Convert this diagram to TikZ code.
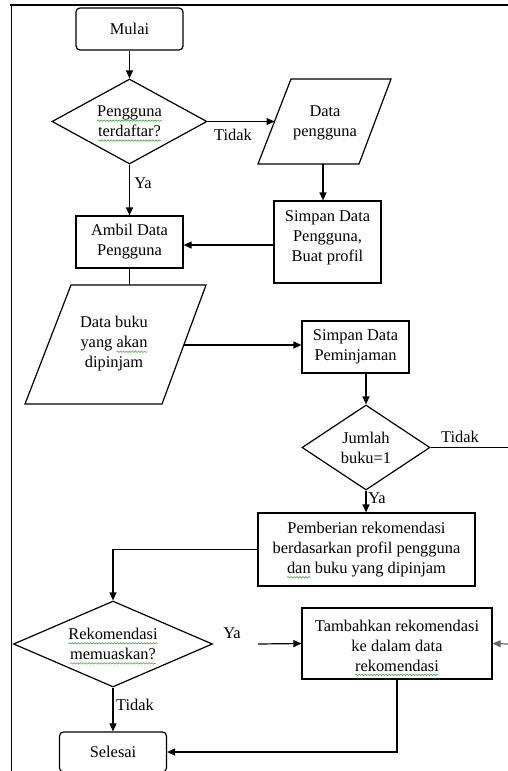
\documentclass[tikz,border=0pt]{standalone}
\usepackage{fontspec}
\setmainfont{Liberation Serif}
\usetikzlibrary{shapes.geometric,arrows.meta,decorations.pathmorphing}
\definecolor{squig}{RGB}{70,165,70}
% small green wavy underline (spell-check marks) drawn under a word
\newsavebox\sqbox
\newcommand\sqg[1]{\sbox\sqbox{#1}%
  \rlap{\tikz[overlay]\draw[squig, line width=0.6pt, decorate,
      decoration={snake, amplitude=0.7pt, segment length=3pt}]
      (0pt,-3.8pt) -- (\wd\sqbox,-3.8pt);}%
  \usebox\sqbox}

\begin{document}
\begin{tikzpicture}[x=1pt,y=-1pt,
  every node/.style={font=\fontsize{16.4}{20}\selectfont},
  line/.style={line width=1.2pt},
  arr/.style={line, -{Triangle[length=8pt,width=7pt]}},
  proc/.style={draw, line width=1.2pt, align=center, inner sep=0pt},
  term/.style={proc, rounded corners=4pt},
  decision/.style={draw, diamond, line width=1.2pt, align=center, inner sep=0pt},
  io/.style={line width=1.2pt, line join=miter},
  lbl/.style={inner sep=0pt}]
\useasboundingbox (0,0) rectangle (508,771);

% page frame
\draw[line width=1.4pt] (10,5) -- (508,5);
\draw[line width=1.4pt] (11.5,5) -- (11.5,771);

% nodes
\node[term, minimum width=107pt, minimum height=42pt] (mulai) at (129.5,29) {Mulai};
\node[decision, aspect=1.82, minimum width=155pt, minimum height=85pt] (d1) at (129.5,121.5) {\sqg{Pengguna}\\\sqg{terdaftar?}};

\node[lbl, align=center] (dp) at (325,123) {Data\\pengguna};
\draw[io] (291,79) -- (391,79) -- (359,164) -- (258,164) -- cycle;
\coordinate (dpL) at (274.5,121.5);
\coordinate (dpB) at (323,164);

\node[proc, minimum width=107pt, minimum height=82pt] (sp) at (327.5,242) {};
\node[lbl, align=center] (spt) at (327.5,237.5) {Simpan Data\\Pengguna,\\Buat profil};
\node[proc, minimum width=107pt, minimum height=52pt] (ambil) at (129.5,242) {Ambil Data\\Pengguna};

\node[lbl, align=center] (db) at (114,344) {Data buku\\yang \sqg{akan}\\dipinjam};
\draw[io] (71,285) -- (206,285) -- (162,404) -- (25,404) -- cycle;
\coordinate (dbT) at (129.5,285);
\coordinate (dbR) at (183.5,345);

\node[proc, minimum width=107pt, minimum height=52pt] (spm) at (355.5,347) {Simpan Data\\Peminjaman};
\node[decision, aspect=1.5, minimum width=128pt, minimum height=85pt] (d2) at (366,447.5) {Jumlah\\buku=1};
\node[proc, minimum width=217pt, minimum height=73pt] (pem) at (366.5,549.5) {Pemberian rekomendasi\\berdasarkan profil pengguna\\\sqg{dan} buku yang dipinjam};
\node[decision, aspect=2.3, minimum width=199pt, minimum height=86pt] (d3) at (113,644) {\sqg{Rekomendasi}\\\sqg{memuaskan?}};
\node[proc, minimum width=190pt, minimum height=71pt] (tam) at (397,643.5) {};
\node[lbl, align=center] (tamt) at (397,645.5) {Tambahkan rekomendasi\\ke dalam data\\\sqg{rekomendasi}};
\node[term, minimum width=107pt, minimum height=40pt] (sel) at (113,752) {Selesai};

\coordinate (tidakEnd) at (508,447.5);
\coordinate (yaStart) at (258,644);
\coordinate (inR) at (508,644);

% connectors
\draw[arr] (mulai.south) -- (d1.north);
\draw[arr] (d1.east) -- (dpL);
\draw[arr] (dpB) -- (dpB |- sp.north);
\draw[arr] (d1.south) -- (ambil.north);
\draw[arr] ([yshift=-3pt]sp.west) -- ([yshift=-3pt]ambil.east);
\draw[line] (ambil.south) -- (dbT);
\draw[arr] (dbR) -- (dbR -| spm.west);
\draw[arr] (d2.north |- spm.south) -- (d2.north);
\draw[line] (d2.east) -- (tidakEnd);
\draw[arr] (d2.south) -- (d2.south |- pem.north);
\draw[arr] (pem.west) -| (d3.north);
\draw[arr] (yaStart) -- (tam.west);
\draw[arr, draw=gray!80!black] (inR) -- (tam.east);
\draw[arr] (d3.south) -- (sel.north);
\draw[arr] (tam.south) |- (sel.east);

% branch labels
\node[lbl] (t1) at (233,135) {Tidak};
\node[lbl] (y1) at (143,183) {Ya};
\node[lbl] (t2) at (460,437) {Tidak};
\node[lbl] (y2) at (377,498) {Ya};
\node[lbl] (y3) at (232,633) {Ya};
\node[lbl] (t3) at (135,705) {Tidak};
\end{tikzpicture}
\end{document}
